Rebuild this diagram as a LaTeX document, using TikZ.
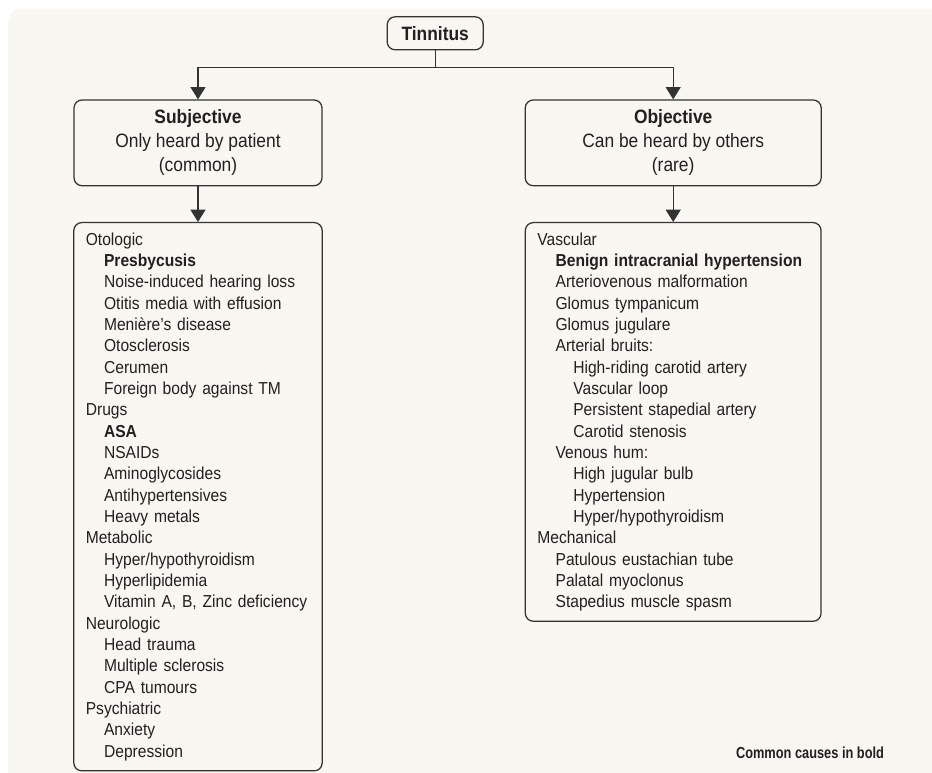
\documentclass[tikz,border=0pt]{standalone}
\usepackage{fontspec}
\setmainfont{Liberation Sans}[FakeStretch=0.9]
\newfontfamily\notefont{Liberation Sans}[FakeStretch=0.8]
\usetikzlibrary{arrows.meta,positioning}
\definecolor{panel}{HTML}{F8F7F1}
\definecolor{ink}{HTML}{231F20}
\definecolor{rule}{HTML}{333333}
\newcommand{\indA}{\hspace*{13.7pt}}
\newcommand{\indB}{\hspace*{27pt}}
\tikzset{
  catbox/.style={draw=rule, line width=0.95pt, rounded corners=6pt, text=ink,
    align=center, font=\fontsize{14.5}{18}\selectfont},
  listbox/.style={draw=rule, line width=0.95pt, rounded corners=6pt, text=ink,
    align=left, inner xsep=9pt, inner ysep=0pt, font=\fontsize{13}{16}\selectfont},
  arr/.style={draw=rule, line width=0.8pt, -{Triangle[width=11.25pt,length=9.2pt]}},
}

\begin{document}
\begin{tikzpicture}[x=0.75pt, y=-0.75pt]
    \useasboundingbox (0,0) rectangle (932,772);
    % background panel
    \fill[white] (0,0) rectangle (932,772);
    \begin{scope}
      \clip (0,0) rectangle (932,772);
      \fill[panel, rounded corners=11pt] (8,8.5) rectangle (960,800);
    \end{scope}
    % top
    \node[catbox, font=\fontsize{14.5}{18}\selectfont\bfseries,
      minimum width=72pt, minimum height=24.75pt] (tinnitus) at (435.2,33.3) {Tinnitus};
    % two kinds
    \node[catbox, minimum width=186pt, minimum height=64.3pt] (subj) at (198,142.85)
      {\textbf{Subjective}\\Only heard by patient\\(common)};
    \node[catbox, minimum width=222pt, minimum height=64.3pt] (obj) at (673.2,142.85)
      {\textbf{Objective}\\Can be heard by others\\(rare)};
    % cause lists
    \node[listbox, anchor=north, below=26.7pt of subj, text width=168.3pt,
      minimum height=411.2pt] (subjlist) {%
      Otologic\\
      \indA\textbf{Presbycusis}\\
      \indA Noise-induced hearing loss\\
      \indA Otitis media with effusion\\
      \indA Menière’s disease\\
      \indA Otosclerosis\\
      \indA Cerumen\\
      \indA Foreign body against TM\\
      Drugs\\
      \indA\textbf{ASA}\\
      \indA NSAIDs\\
      \indA Aminoglycosides\\
      \indA Antihypertensives\\
      \indA Heavy metals\\
      Metabolic\\
      \indA Hyper/hypothyroidism\\
      \indA Hyperlipidemia\\
      \indA Vitamin A, B, Zinc deficiency\\
      Neurologic\\
      \indA Head trauma\\
      \indA Multiple sclerosis\\
      \indA CPA tumours\\
      Psychiatric\\
      \indA Anxiety\\
      \indA Depression};
    \node[listbox, anchor=north, below=26.7pt of obj, text width=203.8pt,
      minimum height=299pt] (objlist) {%
      Vascular\\
      \indA\textbf{Benign intracranial hypertension}\\
      \indA Arteriovenous malformation\\
      \indA Glomus tympanicum\\
      \indA Glomus jugulare\\
      \indA Arterial bruits:\\
      \indB High-riding carotid artery\\
      \indB Vascular loop\\
      \indB Persistent stapedial artery\\
      \indB Carotid stenosis\\
      \indA Venous hum:\\
      \indB High jugular bulb\\
      \indB Hypertension\\
      \indB Hyper/hypothyroidism\\
      Mechanical\\
      \indA Patulous eustachian tube\\
      \indA Palatal myoclonus\\
      \indA Stapedius muscle spasm};
    % connectors
    \coordinate (fork) at (435.2,67.7);
    \draw[draw=rule, line width=0.8pt] (tinnitus.south) -- (fork);
    \draw[arr] (fork) -| (subj.north);
    \draw[arr] (fork) -| (obj.north);
    \draw[arr] (subj.south) -- (subjlist.north);
    \draw[arr] (obj.south) -- (objlist.north);
    % key
    \node[text=ink, inner sep=0pt, font=\notefont\fontsize{12}{14}\selectfont\bfseries]
      (note) at (810,752.7) {Common causes in bold};
\end{tikzpicture}
\end{document}
